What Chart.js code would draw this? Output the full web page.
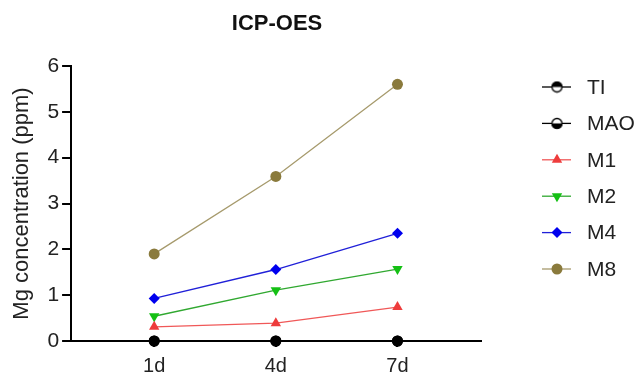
<!DOCTYPE html>
<html>
<head>
<meta charset="utf-8">
<script src="https://cdn.jsdelivr.net/npm/chart.js@4"></script>
<style>
  html, body { margin: 0; padding: 0; background: #fff; }
  #wrap { width: 639px; height: 375px; }
</style>
</head>
<body>
<div id="wrap"><canvas id="chart"></canvas></div>
<script>
  // days of measurement and tick labels
  const days = [1, 4, 7];
  const dayLabels = ['1d', '4d', '7d'];

  const seriesNames = ['TI', 'MAO', 'M1', 'M2', 'M4', 'M8'];
  const tiValues = [0, 0, 0];
  const maoValues = [0, 0, 0];
  const m1Values = [0.31, 0.39, 0.74];
  const m2Values = [0.54, 1.11, 1.57];
  const m4Values = [0.93, 1.56, 2.35];
  const m8Values = [1.90, 3.59, 5.60];

  const font = '"Liberation Sans", Arial, sans-serif';

  // half filled circle used for TI / MAO in the legend
  function halfCircle(topFilled) {
    const c = document.createElement('canvas');
    c.width = 13; c.height = 13;
    const ctx = c.getContext('2d');
    ctx.fillStyle = '#fff';
    ctx.beginPath(); ctx.arc(6.5, 6.5, 5.5, 0, Math.PI * 2); ctx.fill();
    ctx.fillStyle = '#000';
    ctx.beginPath();
    if (topFilled) ctx.arc(6.5, 6.5, 5.5, Math.PI, 0);
    else ctx.arc(6.5, 6.5, 5.5, 0, Math.PI);
    ctx.closePath(); ctx.fill();
    ctx.strokeStyle = '#000'; ctx.lineWidth = 1.3;
    ctx.beginPath(); ctx.arc(6.5, 6.5, 5, 0, Math.PI * 2); ctx.stroke();
    return c;
  }

  const toPoints = vals => vals.map((v, i) => ({ x: days[i], y: v }));

  const datasets = [
    { label: seriesNames[0], data: toPoints(tiValues), borderColor: '#000', backgroundColor: '#000', pointStyle: 'circle', legendStyle: halfCircle(true), pointRadius: 5.5 },
    { label: seriesNames[1], data: toPoints(maoValues), borderColor: '#000', backgroundColor: '#000', pointStyle: 'circle', legendStyle: halfCircle(false), pointRadius: 5.5 },
    { label: seriesNames[2], data: toPoints(m1Values), borderColor: '#f05858', backgroundColor: '#ee3c3c', pointStyle: 'triangle', pointRadius: 6 },
    { label: seriesNames[3], data: toPoints(m2Values), borderColor: '#30a830', backgroundColor: '#14c014', pointStyle: 'triangle', rotation: 180, pointRadius: 6 },
    { label: seriesNames[4], data: toPoints(m4Values), borderColor: '#2020d8', backgroundColor: '#0000ee', pointStyle: 'rectRot', pointRadius: 5.5 },
    { label: seriesNames[5], data: toPoints(m8Values), borderColor: '#a69a6c', backgroundColor: '#8a7a3c', pointStyle: 'circle', pointRadius: 5.5 }
  ].map(d => Object.assign({ borderWidth: 1.3, pointBorderWidth: 0, clip: false }, d));

  const sidePlugin = {
    id: 'side',
    afterDraw(chart) {
      const ctx = chart.ctx;
      ctx.save();
      ctx.fillStyle = '#111';
      ctx.font = 'bold 22px ' + font;
      ctx.textAlign = 'center';
      ctx.textBaseline = 'middle';
      ctx.fillText('ICP-OES', 277, 24);

      ctx.font = '21px ' + font;
      ctx.textAlign = 'left';
      chart.data.datasets.forEach((ds, i) => {
        const y = 87 + i * 36.4;
        ctx.strokeStyle = ds.borderColor;
        ctx.lineWidth = 1.3;
        ctx.beginPath(); ctx.moveTo(542, y); ctx.lineTo(571, y); ctx.stroke();
        ctx.fillStyle = ds.backgroundColor;
        Chart.helpers.drawPoint(ctx, {
          pointStyle: ds.legendStyle || ds.pointStyle,
          rotation: ds.rotation || 0,
          radius: ds.pointRadius,
          borderWidth: 0
        }, 557, y);
        ctx.fillStyle = '#222';
        ctx.fillText(ds.label, 587, y + 1);
      });
      ctx.restore();
    }
  };

  new Chart(document.getElementById('chart'), {
    type: 'line',
    data: { datasets: datasets },
    options: {
      responsive: true,
      maintainAspectRatio: false,
      animation: false,
      layout: { padding: { top: 66, right: 158, left: 0, bottom: -10 } },
      plugins: { legend: { display: false }, title: { display: false }, tooltip: { enabled: false } },
      scales: {
        x: {
          type: 'linear',
          min: -1.05,
          max: 9.06,
          afterBuildTicks: axis => { axis.ticks = days.map(v => ({ value: v })); },
          ticks: {
            color: '#222',
            font: { family: font, size: 20, lineHeight: 1 },
            padding: 9,
            callback: v => dayLabels[days.indexOf(v)]
          },
          grid: { drawOnChartArea: false, drawTicks: true, tickLength: 6, color: '#000', lineWidth: 2 },
          border: { color: '#000', width: 2 }
        },
        y: {
          min: 0,
          max: 6,
          ticks: { stepSize: 1, color: '#222', font: { family: font, size: 21 }, padding: 3 },
          grid: { drawOnChartArea: false, drawTicks: true, tickLength: 9, color: '#000', lineWidth: 2 },
          border: { color: '#000', width: 2 },
          title: { display: true, text: 'Mg concentration (ppm)', color: '#222', font: { family: font, size: 22 }, padding: 9 }
        }
      }
    },
    plugins: [sidePlugin]
  });
</script>
</body>
</html>
